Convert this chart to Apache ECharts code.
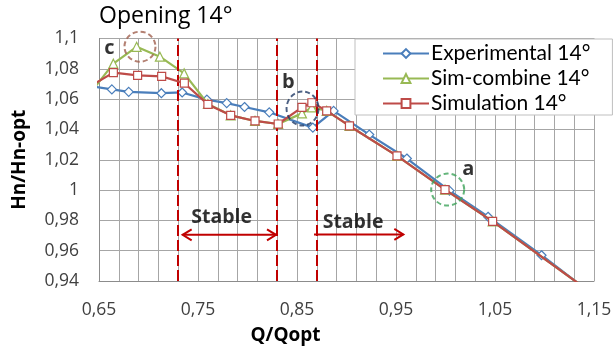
<!DOCTYPE html>
<html>
<head>
<meta charset="utf-8">
<script src="https://cdn.jsdelivr.net/npm/echarts@6/dist/echarts.min.js"></script>
<style>
  html, body { margin: 0; padding: 0; background: #ffffff; }
  #chart { width: 615px; height: 350px; }
</style>
</head>
<body>
<div id="chart"></div>
<script>
// Head curve at 14° guide vane opening: Hn/Hn-opt against Q/Qopt.
// Points just outside the axis range let the curves run off the plot edge.

const expQ = [0.640, 0.663, 0.680, 0.713, 0.734, 0.759, 0.779, 0.797, 0.822, 0.866, 0.887, 0.923, 0.961, 1.004, 1.043, 1.097, 1.150];
const expH = [1.0687, 1.0664, 1.0648, 1.0639, 1.0644, 1.0597, 1.0574, 1.0548, 1.0513, 1.0412, 1.0522, 1.0366, 1.0208, 0.9996, 0.9824, 0.9570, 0.9305];

const comQ = [0.640, 0.6645, 0.688, 0.7115, 0.736, 0.760, 0.783, 0.8076, 0.831, 0.855, 0.865, 0.880, 0.903, 0.951, 0.9995, 1.0476, 1.150];
const comH = [1.0630, 1.0834, 1.0945, 1.0880, 1.0770, 1.0568, 1.0493, 1.0456, 1.0436, 1.0506, 1.0545, 1.0523, 1.0423, 1.0226, 1.0003, 0.9793, 0.9310];

const simQ = [0.640, 0.6645, 0.689, 0.7133, 0.7362, 0.760, 0.783, 0.8076, 0.831, 0.855, 0.865, 0.880, 0.903, 0.951, 0.9995, 1.0476, 1.150];
const simH = [1.0680, 1.0775, 1.0757, 1.0750, 1.0705, 1.0565, 1.0493, 1.0456, 1.0436, 1.0545, 1.0576, 1.0523, 1.0423, 1.0226, 1.0003, 0.9793, 0.9310];

const seriesNames = ['Experimental 14°', 'Sim-combine 14°', 'Simulation 14°'];

// Axis ticks and their labels
const xTicks = [0.65, 0.75, 0.85, 0.95, 1.05, 1.15];
const xTickLabels = ['0,65', '0,75', '0,85', '0,95', '1,05', '1,15'];
const yTicks = [0.94, 0.96, 0.98, 1.00, 1.02, 1.04, 1.06, 1.08, 1.10];
const yTickLabels = ['0,94', '0,96', '0,98', '1', '1,02', '1,04', '1,06', '1,08', '1,1'];

// Boundaries of the operating zones (Q/Qopt)
const zoneBounds = [0.7345, 0.8328, 0.8672];

// "Stable" ranges: [start Q, end Q, Hn level, arrow at start?]
const stableArrows = [
  [0.7345, 0.8288, 0.9705, true],
  [0.8672, 0.9574, 0.9707, false]
];
const stableLabelPos = [[0.7739, 0.9821], [0.9066, 0.9788]];

// Highlighted regions a, b, c: centre and letter position
const markNames = ['a', 'b', 'c'];
const markCentres = [[1.0022, 1.0003], [0.8556, 1.0538], [0.6914, 1.0946]];
const markLetters = [[1.023, 1.0139], [0.8412, 1.0710], [0.6604, 1.0936]];

const WIDE = "'Open Sans', 'Liberation Sans', sans-serif";
const NARROW = "Lato, 'Liberation Sans', sans-serif";
const zip = (a, b) => a.map((v, i) => [v, b[i]]);
const lookup = (ticks, labels, v) => {
  const i = ticks.findIndex(t => Math.abs(t - v) < 1e-6);
  return i < 0 ? '' : labels[i];
};

const circleStyles = [
  { color: 'rgba(0,0,0,0)', borderColor: '#3da35a', borderWidth: 2, borderType: [5, 3] },
  { color: 'rgba(0,0,0,0)', borderColor: '#1f3864', borderWidth: 2, borderType: [5, 3] },
  { color: 'rgba(0,0,0,0)', borderColor: '#a0604f', borderWidth: 2, borderType: [5, 3] }
];
const circleSizes = [[33, 32], [32, 34], [31, 30]];

const chart = echarts.init(document.getElementById('chart'), null, { renderer: 'canvas' });

chart.setOption({
  animation: false,
  backgroundColor: '#ffffff',
  title: {
    text: 'Opening 14°',
    left: 94, top: 0,
    textStyle: { fontFamily: WIDE, fontSize: 23, fontWeight: 'normal', color: '#000000' }
  },
  grid: { left: 99, right: 21, top: 38.5, bottom: 69, containLabel: false },
  legend: {
    data: seriesNames,
    orient: 'vertical',
    left: 355, top: 39,
    padding: [4, 22, 1, 27],
    itemGap: 4,
    itemWidth: 46,
    itemHeight: 11,
    backgroundColor: '#ffffff',
    borderColor: '#bfbfbf',
    borderWidth: 1,
    borderRadius: 0,
    textStyle: { fontFamily: NARROW, fontSize: 21, color: '#000000', lineHeight: 20, padding: [0, 0, 0, -3] }
  },
  xAxis: {
    type: 'value',
    min: 0.65, max: 1.15, interval: 0.1,
    name: 'Q/Qopt',
    nameLocation: 'middle',
    nameGap: 45,
    nameTextStyle: { fontFamily: WIDE, fontSize: 19, fontWeight: 'bold', color: '#000000', padding: [0, 122, 0, 0] },
    axisLine: { show: true, lineStyle: { color: '#8c8c8c', width: 1 } },
    axisTick: { show: false },
    minorTick: { show: false, splitNumber: 5 },
    axisLabel: {
      margin: 20,
      fontFamily: WIDE, fontSize: 17.5, color: '#404040',
      formatter: v => lookup(xTicks, xTickLabels, v)
    },
    splitLine: { show: true, lineStyle: { color: '#a6a6a6', width: 1 } },
    minorSplitLine: { show: true, lineStyle: { color: '#a6a6a6', width: 1 } }
  },
  yAxis: {
    type: 'value',
    min: 0.94, max: 1.1, interval: 0.02,
    name: 'Hn/Hn-opt',
    nameLocation: 'middle',
    nameGap: 70,
    nameRotate: 90,
    nameTextStyle: { fontFamily: WIDE, fontSize: 19, fontWeight: 'bold', color: '#000000' },
    axisLine: { show: true, lineStyle: { color: '#8c8c8c', width: 1 } },
    axisTick: { show: false },
    axisLabel: {
      margin: 20,
      fontFamily: WIDE, fontSize: 17.5, color: '#404040',
      formatter: v => lookup(yTicks, yTickLabels, v)
    },
    splitLine: { show: true, lineStyle: { color: '#a6a6a6', width: 1 } }
  },
  series: [
    {
      name: seriesNames[0], type: 'line', clip: true,
      data: zip(expQ, expH),
      symbol: 'diamond', symbolSize: 9, showAllSymbol: true,
      lineStyle: { color: '#4a7ebb', width: 2.2 },
      itemStyle: { color: '#ffffff', borderColor: '#4a7ebb', borderWidth: 1.2 },
      z: 3
    },
    {
      name: seriesNames[1], type: 'line', clip: true,
      data: zip(comQ, comH),
      symbol: 'triangle', symbolSize: 9, showAllSymbol: true,
      lineStyle: { color: '#98b954', width: 2.2 },
      itemStyle: { color: '#ffffff', borderColor: '#98b954', borderWidth: 1.2 },
      z: 4
    },
    {
      name: seriesNames[2], type: 'line', clip: true,
      data: zip(simQ, simH),
      symbol: 'rect', symbolSize: 8, showAllSymbol: true,
      lineStyle: { color: '#be4b48', width: 2.2 },
      itemStyle: { color: '#ffffff', borderColor: '#be4b48', borderWidth: 1.2 },
      z: 5
    },
    {
      // zone boundaries
      name: 'zones', type: 'line', data: [], silent: true, z: 6,
      markLine: {
        silent: true, symbol: 'none', animation: false,
        label: { show: false },
        lineStyle: { color: '#c00000', width: 2, type: [11, 4] },
        data: zoneBounds.map(q => ({ xAxis: q }))
      }
    },
    {
      // stable range arrows
      name: 'stable', type: 'custom', silent: true, z: 7,
      data: stableArrows,
      renderItem: (params, api) => {
        const a = api.coord([api.value(0), api.value(2)]);
        const b = api.coord([api.value(1), api.value(2)]);
        const both = stableArrows[params.dataIndex][3];
        const hl = 9, hh = 5.5;
        const style = { stroke: '#c00000', lineWidth: 2, fill: null };
        const children = [
          { type: 'line', shape: { x1: a[0], y1: a[1], x2: b[0], y2: b[1] }, style },
          { type: 'polyline', shape: { points: [[b[0] - hl, b[1] - hh], [b[0], b[1]], [b[0] - hl, b[1] + hh]] }, style }
        ];
        if (both) {
          children.push({ type: 'polyline', shape: { points: [[a[0] + hl, a[1] - hh], [a[0], a[1]], [a[0] + hl, a[1] + hh]] }, style });
        }
        return { type: 'group', children };
      }
    },
    {
      name: 'stableText', type: 'scatter', silent: true, z: 8,
      symbolSize: 0,
      data: stableLabelPos.map(p => ({ value: p, name: 'Stable' })),
      label: {
        show: true, position: 'inside', formatter: '{b}',
        fontFamily: WIDE, fontSize: 19.5, fontWeight: 'bold', color: '#000000'
      }
    },
    {
      name: 'regions', type: 'scatter', silent: true, z: 8,
      symbol: 'circle',
      data: markCentres.map((p, i) => ({ value: p, symbolSize: circleSizes[i], itemStyle: circleStyles[i] }))
    },
    {
      name: 'regionLetters', type: 'scatter', silent: true, z: 8,
      symbolSize: 0,
      data: markLetters.map((p, i) => ({ value: p, name: markNames[i] })),
      label: {
        show: true, position: 'inside', formatter: '{b}',
        fontFamily: WIDE, fontSize: 20, fontWeight: 'bold', color: '#000000'
      }
    }
  ]
});
</script>
</body>
</html>
